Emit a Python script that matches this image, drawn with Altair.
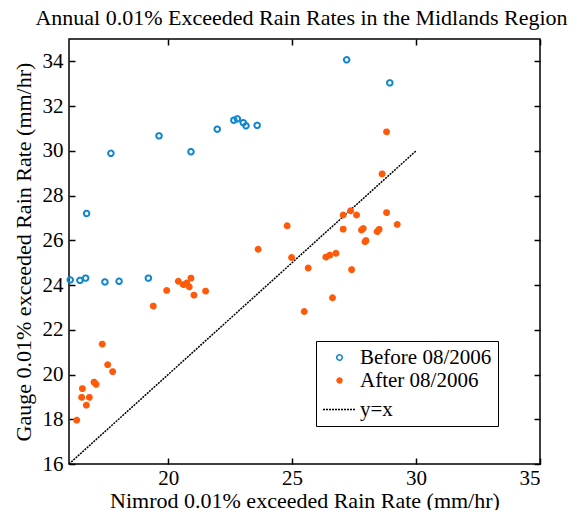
import altair as alt
import pandas as pd

FONT = "Liberation Serif"
BLUE = "#0F86CF"
ORANGE = "#FF5A0A"

SERIES = ["Before 08/2006", "After 08/2006", "y=x"]

before_x = [16.05, 16.44, 16.67, 17.45, 18.02, 19.20, 16.71, 17.69, 19.63, 20.92,
            21.98, 22.65, 22.79, 23.03, 23.14, 23.59, 27.20, 28.94]
before_y = [24.23, 24.21, 24.31, 24.14, 24.17, 24.31, 27.20, 29.89, 30.67, 29.96,
            30.97, 31.37, 31.43, 31.26, 31.12, 31.14, 34.07, 33.04]

after_x = [16.31, 16.70, 16.51, 16.82, 16.54, 17.01, 17.09, 17.34, 17.56, 17.76,
           19.40, 19.94, 20.41, 20.61, 20.75, 20.85, 20.92, 21.04, 21.51, 23.63,
           24.80, 24.98, 25.65, 25.49, 26.36, 26.52, 26.77, 26.63, 27.40, 27.06,
           27.06, 27.36, 27.60, 27.80, 27.87, 27.94, 27.98, 28.43, 28.51, 28.81,
           29.24, 28.63, 28.81]
after_y = [17.96, 18.63, 18.98, 18.98, 19.37, 19.66, 19.56, 21.36, 20.44, 20.13,
           23.06, 23.76, 24.17, 24.02, 24.09, 23.92, 24.31, 23.55, 23.73, 25.60,
           26.65, 25.23, 24.76, 22.82, 25.25, 25.34, 25.42, 23.43, 24.69, 26.50,
           27.13, 27.32, 27.13, 26.46, 26.53, 25.94, 25.99, 26.39, 26.49, 27.24,
           26.71, 28.97, 30.85]

line_x = [16, 30]
line_y = [16, 30]

x_ticks = [20, 25, 30, 35]
y_ticks = [16, 18, 20, 22, 24, 26, 28, 30, 32, 34]

points = pd.DataFrame({
    "x": before_x + after_x,
    "y": before_y + after_y,
    "series": [SERIES[0]] * len(before_x) + [SERIES[1]] * len(after_x),
})
line = pd.DataFrame({"x": line_x, "y": line_y, "series": [SERIES[2]] * len(line_x)})

x_scale = alt.Scale(domain=[16, 35], nice=False, zero=False)
y_scale = alt.Scale(domain=[16, 35], nice=False, zero=False)
stroke_scale = alt.Scale(domain=SERIES, range=[BLUE, ORANGE, "black"])
fill_scale = alt.Scale(domain=SERIES, range=["transparent", ORANGE, "transparent"])
shape_scale = alt.Scale(domain=SERIES, range=["circle", "circle", "stroke"])
size_scale = alt.Scale(type="ordinal", domain=SERIES, range=[30, 24, 1089])
dash_scale = alt.Scale(domain=SERIES, range=[[1, 0], [1, 0], [2, 1]])

common_axis = dict(grid=False, domain=False, tickColor="black", tickWidth=1.5,
                   tickSize=6, offset=-6, labelFont=FONT, labelFontSize=21,
                   labelColor="black", titleFont=FONT, titleFontSize=22,
                   titleFontWeight="normal", titleColor="black")

legend = alt.Legend(
    title=None, orient="none", legendX=247, legendY=302, direction="vertical",
    labelFont=FONT, labelFontSize=21, labelColor="black", labelLimit=400,
    labelOffset=3, rowPadding=1, padding=6,
    strokeColor="black", fillColor="white", symbolStrokeWidth=1.5,
)

line_layer = alt.Chart(line).mark_line(strokeWidth=1.5, clip=False).encode(
    x=alt.X("x:Q", scale=x_scale,
            axis=alt.Axis(orient="top", values=x_ticks, labels=False, title=None,
                          **common_axis)),
    y=alt.Y("y:Q", scale=y_scale,
            axis=alt.Axis(orient="right", values=y_ticks, labels=False, title=None,
                          **common_axis)),
    stroke=alt.Stroke("series:N", scale=stroke_scale, legend=legend),
    strokeDash=alt.StrokeDash("series:N", scale=dash_scale, legend=legend),
)

point_layer = alt.Chart(points).mark_point(filled=False, strokeWidth=2, clip=False, opacity=1).encode(
    x=alt.X("x:Q", scale=x_scale,
            axis=alt.Axis(orient="bottom", values=x_ticks, labelPadding=3,
                          title="Nimrod 0.01% exceeded Rain Rate (mm/hr)",
                          titleBaseline="alphabetic", titleY=49,
                          **common_axis)),
    y=alt.Y("y:Q", scale=y_scale,
            axis=alt.Axis(orient="left", values=y_ticks, labelPadding=6,
                          title="Gauge 0.01% exceeded Rain Rate (mm/hr)",
                          titleBaseline="alphabetic", titleX=-45,
                          **common_axis)),
    stroke=alt.Stroke("series:N", scale=stroke_scale, legend=legend),
    fill=alt.Fill("series:N", scale=fill_scale, legend=legend),
    shape=alt.Shape("series:N", scale=shape_scale, legend=legend),
    size=alt.Size("series:N", scale=size_scale, legend=legend),
    strokeDash=alt.StrokeDash("series:N", scale=dash_scale, legend=legend),
)

chart = alt.layer(line_layer, point_layer).properties(
    width=471, height=425,
    title=alt.TitleParams("Annual 0.01% Exceeded Rain Rates in the Midlands Region",
                          font=FONT, fontSize=22, fontWeight="normal", color="black",
                          anchor="middle", offset=8, dx=-3),
    autosize="none",
    padding={"left": 61, "top": 31, "right": 28, "bottom": 46},
).configure(
    background="white", font=FONT
).configure_view(
    stroke="black", strokeWidth=1.5
).configure_axis(
    labelFont=FONT, titleFont=FONT
).configure_legend(
    labelFont=FONT, titleFont=FONT
)

chart.save("out.html", embed_options={"renderer": "svg", "actions": False})
